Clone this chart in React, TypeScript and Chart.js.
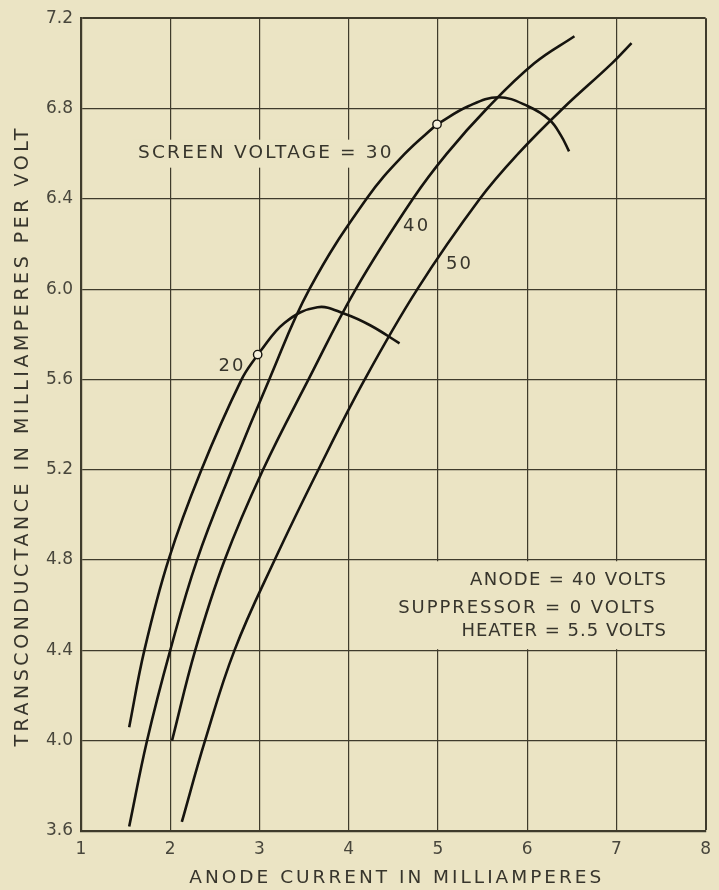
import React, { useEffect, useRef } from "react";
import { Chart, registerables } from "chart.js";

Chart.register(...registerables);

// ---------- data ----------
const xTickValues = [1, 2, 3, 4, 5, 6, 7, 8];
const yTickValues = [3.6, 4.0, 4.4, 4.8, 5.2, 5.6, 6.0, 6.4, 6.8, 7.2];

// screen voltage = 20
const curve20X = [1.54, 1.71, 1.98, 2.35, 2.8, 2.98];
const curve20Y = [4.06, 4.4, 4.8, 5.2, 5.6, 5.71];

// screen voltage = 30
const curve30X = [1.54, 1.74, 2.0, 2.3, 2.69, 3.11, 3.56, 4.2, 4.63, 4.99];
const curve30Y = [3.62, 4.0, 4.4, 4.8, 5.2, 5.6, 6.0, 6.4, 6.6, 6.73];

// screen voltage = 40
const curve40X = [2.02, 2.28, 2.61, 3.04, 3.55, 4.08, 4.72, 5.1, 5.55, 6.08, 6.53];
const curve40Y = [4.0, 4.4, 4.8, 5.2, 5.6, 6.0, 6.4, 6.6, 6.8, 7.0, 7.12];

// screen voltage = 50
const curve50X = [2.13, 2.39, 2.72, 3.17, 3.66, 4.18, 4.77, 5.47, 5.9, 6.4, 6.95, 7.17];
const curve50Y = [3.64, 4.0, 4.4, 4.8, 5.2, 5.6, 6.0, 6.4, 6.6, 6.8, 7.0, 7.09];

// locus arcs
const arcLowX = [2.98, 3.28, 3.65, 3.96, 4.24, 4.57];
const arcLowY = [5.71, 5.85, 5.92, 5.89, 5.84, 5.76];
const arcHighX = [4.99, 5.34, 5.68, 6.01, 6.25, 6.38, 6.47];
const arcHighY = [6.73, 6.81, 6.85, 6.81, 6.75, 6.68, 6.61];

// marked points
const markerX = [2.98, 4.99];
const markerY = [5.71, 6.73];

const curveLabels = ["20", "40", "50"];
const screenLabel = "SCREEN VOLTAGE = 30";
const noteLines = ["ANODE = 40 VOLTS", "SUPPRESSOR = 0 VOLTS", "HEATER = 5.5 VOLTS"];
const xTitle = "ANODE CURRENT IN MILLIAMPERES";
const yTitle = "TRANSCONDUCTANCE IN MILLIAMPERES PER VOLT";

// ---------- styles ----------
const BG = "#ebe4c4";
const INK = "#16140f";
const GRID = "#3f3b2c";
const TEXT = "#37352c";
const TICK = "#48463c";
const FONT = "'DejaVu Sans', sans-serif";

const pts = (xs: number[], ys: number[]) => xs.map((x, i) => ({ x, y: ys[i] }));

function spaced(
  ctx: CanvasRenderingContext2D,
  text: string,
  x: number,
  y: number,
  width: number,
  size: number,
  align: "left" | "center" | "right",
  color: string
) {
  ctx.save();
  ctx.font = `${size}px ${FONT}`;
  ctx.fillStyle = color;
  ctx.textBaseline = "middle";
  ctx.textAlign = "left";
  (ctx as any).letterSpacing = "0px";
  const w0 = ctx.measureText(text).width;
  const sp = text.length > 1 ? (width - w0) / (text.length - 1) : 0;
  (ctx as any).letterSpacing = `${sp}px`;
  const left = align === "center" ? x - width / 2 : align === "right" ? x - width : x;
  ctx.fillText(text, left, y);
  ctx.restore();
}

const labelSpots: [number, number][] = [
  [2.68, 5.66],
  [4.75, 6.28],
  [5.23, 6.11],
];

const paperPlugin = {
  id: "paper",
  beforeDraw(chart: any) {
    const ctx = chart.ctx;
    ctx.save();
    ctx.fillStyle = BG;
    ctx.fillRect(0, 0, chart.width, chart.height);
    ctx.restore();
  },
  beforeDatasetsDraw(chart: any) {
    const ctx: CanvasRenderingContext2D = chart.ctx;
    const xs = chart.scales.x;
    const ys = chart.scales.y;
    ctx.save();
    ctx.fillStyle = BG;
    // note box
    const l = xs.getPixelForValue(4) + 1.5;
    const r = xs.getPixelForValue(8) - 1.5;
    const t = ys.getPixelForValue(4.8) + 1.2;
    const b = ys.getPixelForValue(4.4) - 1.2;
    ctx.fillRect(l, t, r - l, b - t);
    // clear behind the screen voltage label
    const sl = xs.getPixelForValue(1.64);
    const sr = xs.getPixelForValue(4.48);
    const sy = ys.getPixelForValue(6.6);
    ctx.fillRect(sl - 6, sy - 14, sr - sl + 10, 28);
    // clear behind small labels
    labelSpots.forEach(([vx, vy]) => {
      const px = xs.getPixelForValue(vx);
      const py = ys.getPixelForValue(vy);
      ctx.fillRect(px - 15, py - 11, 30, 22);
    });
    ctx.restore();

    spaced(ctx, screenLabel, sl, sy, sr - sl, 18.5, "left", TEXT);
    curveLabels.forEach((lab, i) => {
      const [vx, vy] = labelSpots[i];
      spaced(ctx, lab, xs.getPixelForValue(vx), ys.getPixelForValue(vy), 25, 18, "center", TEXT);
    });

    // notes
    const notePos: [number, number, number][] = [
      [5.36, 7.556, 4.709],
      [4.555, 7.43, 4.585],
      [5.264, 7.556, 4.483],
    ];
    noteLines.forEach((line, i) => {
      const [a, bb, vy] = notePos[i];
      const pa = xs.getPixelForValue(a);
      const pb = xs.getPixelForValue(bb);
      spaced(ctx, line, pa, ys.getPixelForValue(vy), pb - pa, 18, "left", TEXT);
    });
  },
  afterDraw(chart: any) {
    const ctx: CanvasRenderingContext2D = chart.ctx;
    const area = chart.chartArea;
    spaced(ctx, xTitle, (area.left + area.right) / 2 + 2, 878, 412, 18.5, "center", TEXT);
    ctx.save();
    ctx.translate(23, (area.top + area.bottom) / 2 + 13);
    ctx.rotate(-Math.PI / 2);
    spaced(ctx, yTitle, 0, 0, 618, 19, "center", TEXT);
    ctx.restore();
  },
};

export default function App() {
  const ref = useRef<HTMLCanvasElement | null>(null);

  useEffect(() => {
    const prevMargin = document.body.style.margin;
    document.body.style.margin = "0";
    document.body.style.background = BG;
    if (!ref.current) return;

    const lineDs = (xs: number[], ys: number[], label: string) => ({
      label,
      data: pts(xs, ys),
      borderColor: INK,
      borderWidth: 2.6,
      pointRadius: 0,
      fill: false,
      tension: 0.4,
      order: 2,
    });

    const chart = new Chart(ref.current, {
      type: "line",
      data: {
        datasets: [
          lineDs(curve20X, curve20Y, "20"),
          lineDs(curve30X, curve30Y, "30"),
          lineDs(curve40X, curve40Y, "40"),
          lineDs(curve50X, curve50Y, "50"),
          lineDs(arcLowX, arcLowY, "arc1"),
          lineDs(arcHighX, arcHighY, "arc2"),
          {
            label: "markers",
            data: pts(markerX, markerY),
            showLine: false,
            pointRadius: 4.2,
            pointBackgroundColor: "#f6f1de",
            pointBorderColor: INK,
            pointBorderWidth: 1.4,
            order: 0,
          } as any,
        ],
      },
      options: {
        animation: false,
        responsive: false,
        maintainAspectRatio: false,
        layout: { padding: { top: 16, right: 6, left: 0, bottom: 0 } },
        plugins: {
          legend: { display: false },
          tooltip: { enabled: false },
        },
        scales: {
          x: {
            type: "linear",
            min: 1,
            max: 8,
            afterBuildTicks: (s: any) => {
              s.ticks = xTickValues.map((v) => ({ value: v }));
            },
            afterFit: (s: any) => {
              s.height = 59;
            },
            grid: {
              color: GRID,
              lineWidth: (c: any) => (c.tick && c.tick.value === 8 ? 2 : 1.2),
              drawTicks: false,
            },
            border: { color: GRID, width: 2.2 },
            ticks: {
              padding: 8,
              color: TICK,
              font: { family: FONT, size: 17 },
              callback: (v: any) => String(v),
            },
          },
          y: {
            type: "linear",
            min: 3.6,
            max: 7.2,
            afterBuildTicks: (s: any) => {
              s.ticks = yTickValues.map((v) => ({ value: v }));
            },
            afterFit: (s: any) => {
              s.width = 81;
            },
            grid: {
              color: GRID,
              lineWidth: (c: any) => (c.tick && Math.abs(c.tick.value - 7.2) < 1e-6 ? 2 : 1.2),
              drawTicks: false,
            },
            border: { color: GRID, width: 2.2 },
            ticks: {
              padding: 8,
              color: TICK,
              font: { family: FONT, size: 17 },
              callback: (v: any) => Number(v).toFixed(1),
            },
          },
        },
      },
      plugins: [paperPlugin],
    });

    return () => {
      chart.destroy();
      document.body.style.margin = prevMargin;
    };
  }, []);

  return (
    <div style={{ width: 719, height: 890, background: BG }}>
      <canvas ref={ref} width={719} height={890} style={{ display: "block" }} />
    </div>
  );
}
